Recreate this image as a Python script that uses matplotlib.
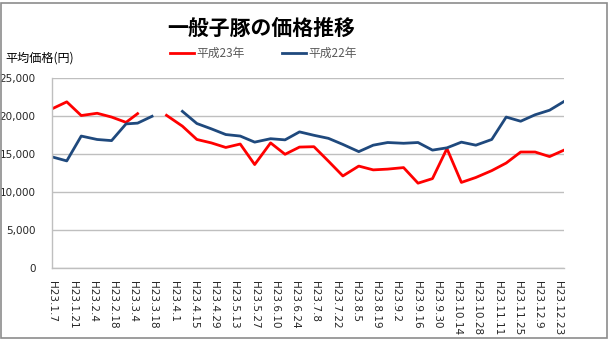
from __future__ import annotations

import datetime as dt

import matplotlib

matplotlib.use("Agg")
import matplotlib.dates as mdates
import matplotlib.pyplot as plt
import numpy as np
from matplotlib.patches import Rectangle

plt.rcParams["font.family"] = ["DejaVu Sans", "Noto Sans CJK JP"]

JP_FONT = ["Noto Sans CJK JP", "DejaVu Sans"]

# market days (month, day) in H23 = 2011, three per month
point_days = [
    (1, 7), (1, 17), (1, 27), (2, 7), (2, 17), (2, 27), (3, 7), (3, 17), (3, 27),
    (4, 7), (4, 17), (4, 27), (5, 7), (5, 17), (5, 27), (6, 7), (6, 17), (6, 27),
    (7, 7), (7, 17), (7, 27), (8, 7), (8, 17), (8, 27), (9, 7), (9, 17), (9, 27),
    (10, 7), (10, 17), (10, 27), (11, 7), (11, 17), (11, 27), (12, 7), (12, 17), (12, 27),
]

nan = np.nan
h23_prices = [
    21000, 21900, 20100, 20400, 19900, 19200, 20350, nan, 20130,
    18700, 16950, 16500, 15900, 16350, 13650, 16500, 15000, 15950,
    16000, 14100, 12150, 13450, 12950, 13050, 13250, 11200, 11800,
    15750, 11300, 11950, 12850, 13850, 15300, 15300, 14700, 15550,
]
h22_prices = [
    14650, 14130, 17400, 16950, 16800, 19000, 19100, 20000, nan,
    20650, 19050, 18350, 17600, 17400, 16600, 17050, 16900, 17950,
    17500, 17100, 16300, 15350, 16200, 16550, 16450, 16550, 15550,
    15850, 16600, 16200, 16950, 19900, 19350, 20200, 20800, 21950,
]

tick_labels = [
    "H23.1.7", "H23.1.21", "H23.2.4", "H23.2.18", "H23.3.4", "H23.3.18",
    "H23.4.1", "H23.4.15", "H23.4.29", "H23.5.13", "H23.5.27", "H23.6.10",
    "H23.6.24", "H23.7.8", "H23.7.22", "H23.8.5", "H23.8.19", "H23.9.2",
    "H23.9.16", "H23.9.30", "H23.10.14", "H23.10.28", "H23.11.11",
    "H23.11.25", "H23.12.9", "H23.12.23",
]


def heisei_date(label: str) -> dt.date:
    era, month, day = label.split(".")
    return dt.date(1988 + int(era[1:]), int(month), int(day))


dates = [dt.date(2011, m, d) for m, d in point_days]
tick_dates = [heisei_date(label) for label in tick_labels]

fig = plt.figure(figsize=(6.14, 3.41), dpi=100)
ax = fig.add_axes([0.0852, 0.2132, 0.8334, 0.5572])

ax.plot(dates, h23_prices, color="#FF0000", linewidth=2.0, label="平成23年", solid_joinstyle="round")
ax.plot(dates, h22_prices, color="#1F497D", linewidth=2.0, label="平成22年", solid_joinstyle="round")

ax.set_xlim(mdates.date2num(dates[0]), mdates.date2num(dates[-1]))
ax.set_ylim(0, 25000)
ax.set_yticks(np.arange(0, 25001, 5000))
ax.yaxis.set_major_formatter(matplotlib.ticker.FuncFormatter(lambda v, _: f"{int(v):,}"))
ax.set_xticks(mdates.date2num(tick_dates))
ax.set_xticklabels(tick_labels, rotation=-90, va="top", ha="center")
ax.tick_params(axis="both", length=0, labelsize=7.5, colors="#262626")
ax.tick_params(axis="x", pad=9)
ax.tick_params(axis="y", pad=12)

ax.grid(axis="y", color="#BFBFBF", linewidth=1.0)
ax.set_axisbelow(True)
for side in ("top", "right"):
    ax.spines[side].set_visible(False)
for side in ("left", "bottom"):
    ax.spines[side].set_color("#BFBFBF")
    ax.spines[side].set_linewidth(1.0)

fig.text(0.425, 0.918, "一般子豚の価格推移", ha="center", va="center",
         fontsize=15, fontweight="bold", family=JP_FONT)
fig.text(0.008, 0.829, "平均価格(円)", ha="left", va="center",
         fontsize=8.7, family=JP_FONT)

leg = fig.legend(loc="center", bbox_to_anchor=(0.429, 0.843), ncol=2, frameon=False,
                 prop={"family": JP_FONT, "size": 8.5}, handlelength=2.0,
                 columnspacing=3.2, handletextpad=0.2)
for text in leg.get_texts():
    text.set_color("#595959")

fig.patches.append(Rectangle((1.5 / 614, 3.5 / 341), 605 / 614, 335 / 341,
                             transform=fig.transFigure, fill=False,
                             edgecolor="#8C8C8C", linewidth=1.2))

fig.savefig("out.png", dpi=100)
